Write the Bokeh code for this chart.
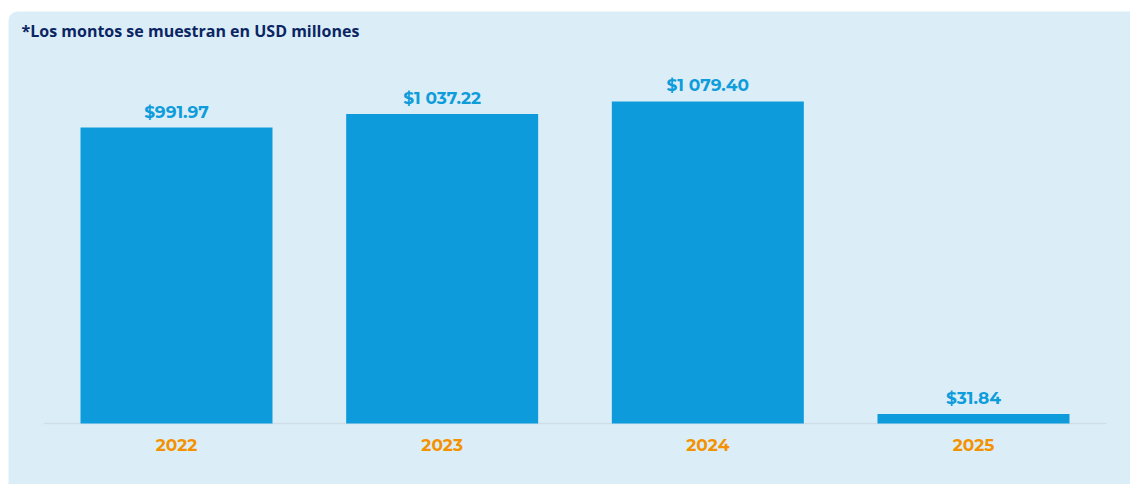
from bokeh.plotting import figure
from bokeh.models import ColumnDataSource, BoxAnnotation, Range1d
from bokeh.core.properties import value
from bokeh.embed import file_html
from bokeh.resources import INLINE

# Data
years = ["2022", "2023", "2024", "2025"]
amounts = [991.97, 1037.22, 1079.40, 31.84]
amount_labels = ["$991.97", "$1 037.22", "$1 079.40", "$31.84"]
note = "*Los montos se muestran en USD millones"

W, H = 1130, 484
xs = list(range(len(years)))
src = ColumnDataSource(dict(
    x=xs, top=amounts, year=years, lab=amount_labels,
    lab_y=amounts,
    year_y=[0] * len(years),
))

p = figure(width=W, height=H, output_backend="svg", toolbar_location=None,
           x_range=Range1d(-0.6625, 3.591), y_range=Range1d(-204.4, 1417.6),
           min_border=0, min_border_left=0, min_border_right=0,
           min_border_top=0, min_border_bottom=0)
p.axis.visible = False
p.grid.visible = False
p.outline_line_color = None
p.background_fill_color = "white"
p.border_fill_color = "white"

panel = BoxAnnotation(left=-0.6324, top=1380.7, fill_color="#dbeef8", fill_alpha=1.0,
                      line_color=None, border_radius=dict(top_left=9, top_right=0,
                                                          bottom_left=0, bottom_right=0),
                      level="underlay")
p.add_layout(panel)

# baseline
p.segment(x0=[-0.5], x1=[len(years) - 0.5], y0=[0], y1=[0], line_color="#cfdde6", line_width=1.5)

p.vbar(x="x", top="top", bottom=0, width=0.7227, source=src,
       fill_color="#0e9bdb", line_color=None)

p.text(x="x", y="lab_y", text="lab", source=src, x_offset=0, y_offset=-6,
       text_align="center", text_baseline="bottom",
       text_font=value("Montserrat, Open Sans"), text_font_style="bold",
       text_font_size="17px", text_color="#0f9cdb")

p.text(x="x", y="year_y", text="year", source=src, y_offset=21,
       text_align="center", text_baseline="middle",
       text_font=value("Montserrat, Open Sans"), text_font_style="bold",
       text_font_size="17px", text_color="#f39200")

p.text(x=[-0.6625], y=[1417.6], text=[note], x_offset=21, y_offset=30,
       text_align="left", text_baseline="middle",
       text_font=value("Open Sans"), text_font_style="bold",
       text_font_size="16px", text_color="#0b2563")

open("out.html", "w").write(file_html(p, INLINE))
